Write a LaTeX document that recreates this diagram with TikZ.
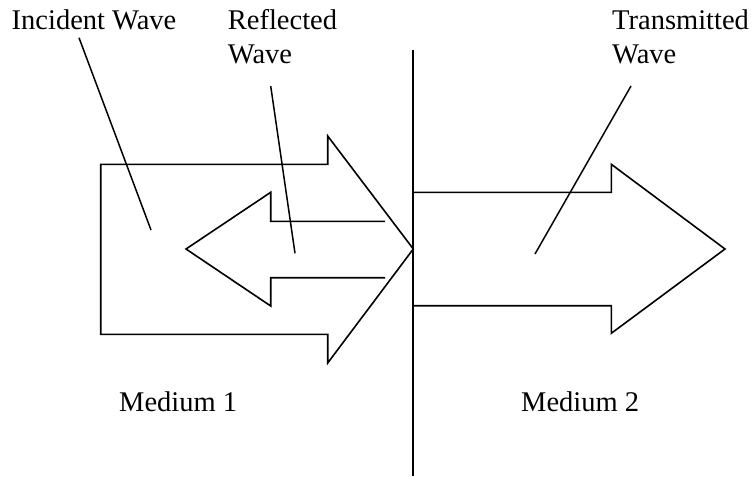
\documentclass[tikz,border=0pt]{standalone}
\usepackage{fontspec}
\setmainfont{Liberation Serif}
\begin{document}
\begin{tikzpicture}[x=1pt,y=-1pt,
  shape line/.style={line width=1.6pt,line join=miter},
  pointer/.style={line width=1.5pt},
  label text/.style={inner sep=0pt,anchor=base west,font=\fontsize{28.5}{34}\selectfont,align=left}]
\useasboundingbox (0,0) rectangle (754,476);
% interface
\coordinate (ifTop) at (413,50);
\coordinate (ifBot) at (413,476);
\draw[shape line] (ifTop) -- (ifBot);
% incident arrow
\draw[shape line] (100.7,164.3) -- (327.7,164.3) -- (327.7,136) -- (413.3,249) -- (327.7,363) -- (327.7,334.3) -- (100.7,334.3) -- cycle;
% reflected arrow
\draw[shape line] (385,221.3) -- (270.7,221.3) -- (270.7,192.3) -- (186,249) -- (270.7,306) -- (270.7,277.7) -- (385,277.7);
% transmitted arrow
\draw[shape line] (413,192.3) -- (611.3,192.3) -- (611.3,164.3) -- (725,249) -- (611.3,333.3) -- (611.3,305.7) -- (413,305.7);
% labels
\node[label text] (inc) at (11.5,30) {Incident Wave};
\node[label text] (refl) at (227.7,63.5) {Reflected\\Wave};
\node[label text] (trans) at (612,63.5) {Transmitted\\Wave};
\node[label text] (m1) at (119,411) {Medium 1};
\node[label text] (m2) at (521,411) {Medium 2};
% pointers
\coordinate (incA) at (79,37.7);
\coordinate (incB) at (151,230);
\coordinate (refA) at (270.7,86);
\coordinate (refB) at (295,253.3);
\coordinate (trA) at (631,86);
\coordinate (trB) at (535,254);
\draw[pointer] (incA) -- (incB);
\draw[pointer] (refA) -- (refB);
\draw[pointer] (trA) -- (trB);
\end{tikzpicture}
\end{document}
